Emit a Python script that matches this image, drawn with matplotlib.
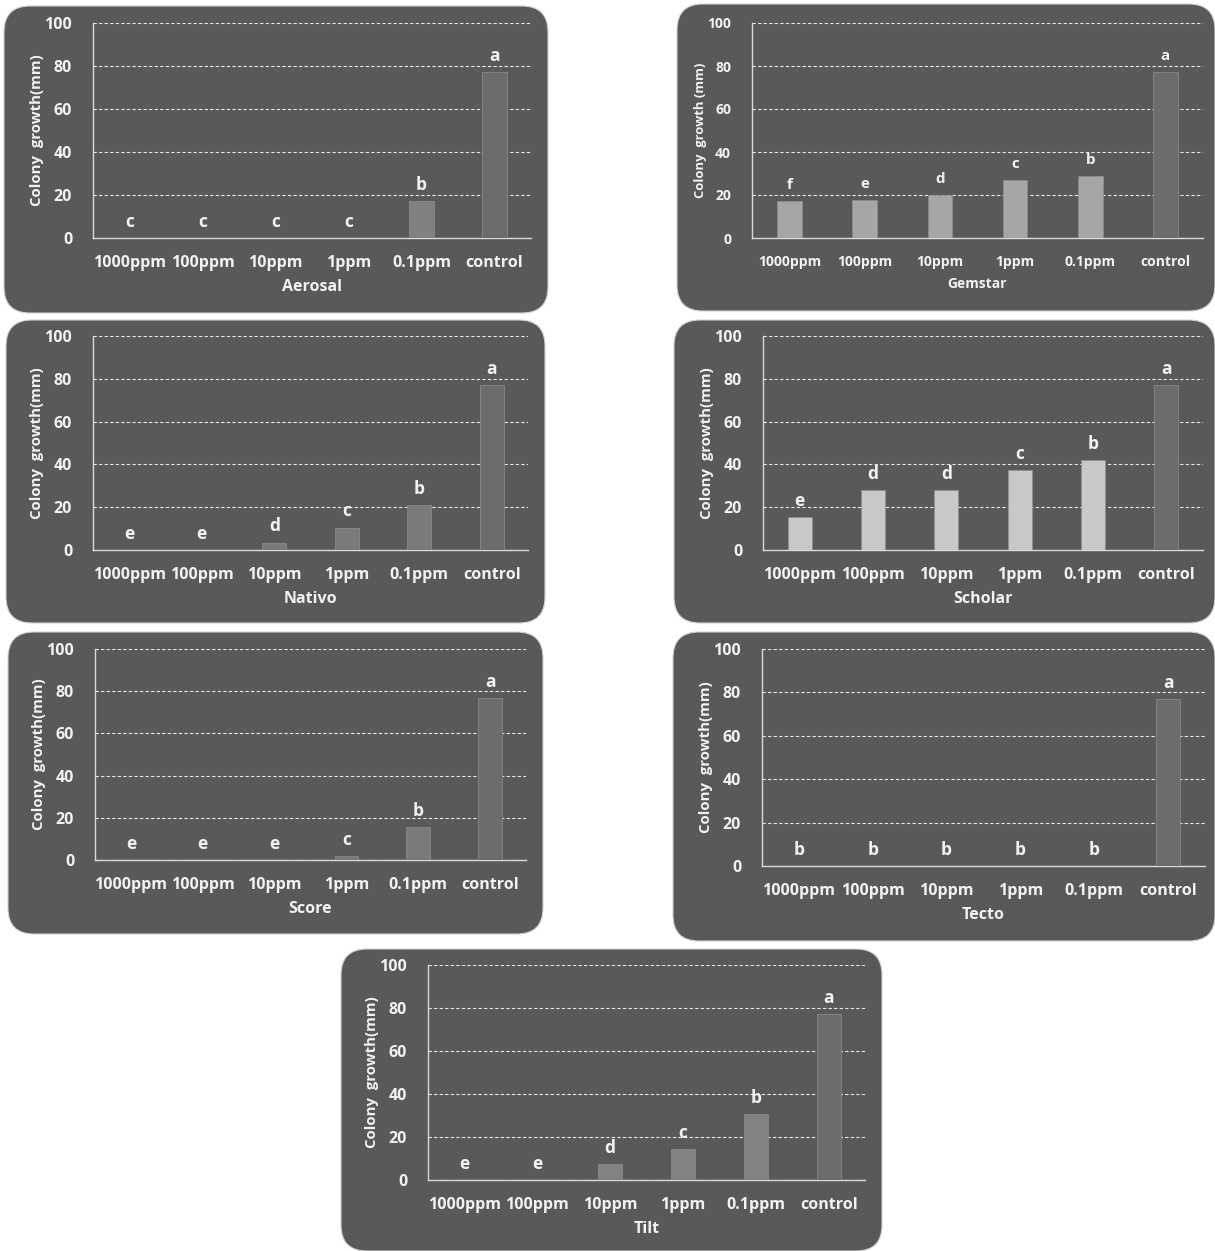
import matplotlib
matplotlib.use("Agg")
import matplotlib.pyplot as plt
from matplotlib.patches import FancyBboxPatch

plt.rcParams['font.family'] = ['Open Sans', 'DejaVu Sans']
plt.rcParams['font.weight'] = 'bold'

W, H = 1215, 1251
DPI = 100

categories = ["1000ppm", "100ppm", "10ppm", "1ppm", "0.1ppm", "control"]

aerosal_vals = [0, 0, 0, 0, 17, 77]
aerosal_letters = ["c", "c", "c", "c", "b", "a"]
gemstar_vals = [17, 17.5, 20, 27, 29, 77]
gemstar_letters = ["f", "e", "d", "c", "b", "a"]
nativo_vals = [0, 0, 3.5, 10.5, 21, 77]
nativo_letters = ["e", "e", "d", "c", "b", "a"]
scholar_vals = [15.5, 28, 28, 37.5, 42, 77]
scholar_letters = ["e", "d", "d", "c", "b", "a"]
score_vals = [0, 0, 0, 2, 15.5, 77]
score_letters = ["e", "e", "e", "c", "b", "a"]
tecto_vals = [0, 0, 0, 0, 0, 77]
tecto_letters = ["b", "b", "b", "b", "b", "a"]
tilt_vals = [0, 0, 7.5, 14.5, 30.5, 77]
tilt_letters = ["e", "e", "d", "c", "b", "a"]

yticks = [0, 20, 40, 60, 80, 100]

BG = "#595959"
TXT = "#f2f2f2"
CTRL = "#6c6c6c"

# (name, values, letters, treatment colour, ylabel, axes px box (l,t,r,b), panel px box (l,t,r,b), font scale)
panels = [
    ("Aerosal", aerosal_vals, aerosal_letters, "#808080", "Colony  growth(mm)",
     (93, 23, 531, 238), (4, 6, 548, 313), 1.0),
    ("Gemstar", gemstar_vals, gemstar_letters, "#a6a6a6", "Colony  growth (mm)",
     (752, 23, 1203, 238), (677, 4, 1215, 311), 0.87),
    ("Nativo", nativo_vals, nativo_letters, "#7a7a7a", "Colony  growth(mm)",
     (93, 336, 528, 550), (6, 320, 545, 623), 1.0),
    ("Scholar", scholar_vals, scholar_letters, "#c8c8c8", "Colony  growth(mm)",
     (763, 336, 1203, 550), (674, 320, 1215, 623), 1.0),
    ("Score", score_vals, score_letters, "#7a7a7a", "Colony  growth(mm)",
     (95, 649, 526, 860), (8, 632, 543, 934), 1.0),
    ("Tecto", tecto_vals, tecto_letters, "#7a7a7a", "Colony  growth(mm)",
     (762, 649, 1205, 866), (673, 632, 1215, 941), 1.0),
    ("Tilt", tilt_vals, tilt_letters, "#828282", "Colony  growth(mm)",
     (428, 965, 865, 1180), (341, 949, 882, 1251), 1.0),
]

fig = plt.figure(figsize=(W / DPI, H / DPI), dpi=DPI)
fig.patch.set_facecolor("white")

for name, vals, letters, tcol, ylab, abox, pbox, fs in panels:
    pl, pt, pr, pb = pbox
    patch = FancyBboxPatch(((pl) / DPI, (H - pb) / DPI), (pr - pl) / DPI, (pb - pt) / DPI,
                           boxstyle="round,pad=0,rounding_size=0.26",
                           transform=fig.dpi_scale_trans, facecolor=BG,
                           edgecolor="#d0d0d0", linewidth=0.8, zorder=0)
    fig.patches.append(patch)

    al, at, ar, ab = abox
    ax = fig.add_axes([al / W, 1 - ab / H, (ar - al) / W, (ab - at) / H])
    ax.set_facecolor("none")
    ax.set_zorder(1)
    colors = [tcol] * (len(vals) - 1) + [CTRL]
    x = list(range(len(categories)))
    ax.bar(x, vals, width=0.33, color=colors, edgecolor="#8f8f8f", linewidth=0.5, zorder=3)
    for xi, v, lt in zip(x, vals, letters):
        ax.text(xi, v + 7.5, lt, ha="center", va="center", color=TXT,
                fontsize=12.5 * fs, fontweight="bold", zorder=4)
    ax.set_xlim(-0.5, 5.5)
    ax.set_ylim(0, 100)
    ax.set_yticks(yticks)
    ax.set_xticks(x)
    ax.set_xticklabels(categories)
    ax.tick_params(axis="both", length=0, colors=TXT)
    ax.tick_params(axis="x", pad=12, labelsize=11.5 * fs)
    ax.tick_params(axis="y", pad=15, labelsize=11.5 * fs)
    for lab in ax.get_xticklabels() + ax.get_yticklabels():
        lab.set_fontweight("bold")
    ax.yaxis.grid(True, linestyle=(0, (3, 2)), color="#e8e8e8", linewidth=0.8, zorder=1)
    ax.set_axisbelow(True)
    for s in ["top", "right"]:
        ax.spines[s].set_visible(False)
    for s in ["left", "bottom"]:
        ax.spines[s].set_color("#d9d9d9")
        ax.spines[s].set_linewidth(1.0)
    ax.set_xlabel(name, color=TXT, fontsize=11.5 * fs, fontweight="bold", labelpad=6)
    ax.set_ylabel(ylab, color=TXT, fontsize=10.8 * fs, fontweight="bold", labelpad=0)

fig.savefig("out.png", dpi=DPI)
